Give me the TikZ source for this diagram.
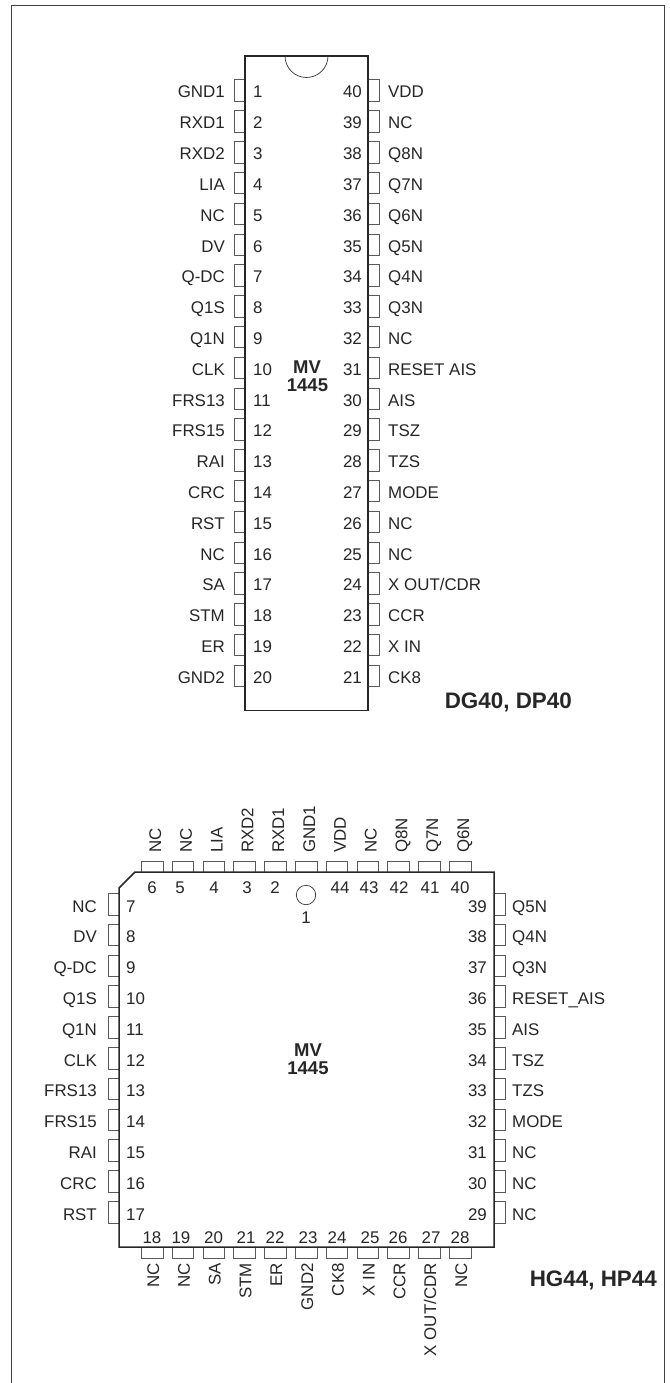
\documentclass[tikz,border=0pt]{standalone}
\usepackage{fontspec}
\setmainfont{Liberation Sans}
\usetikzlibrary{positioning}

\begin{document}
\begin{tikzpicture}[
    x = 1pt,
    y = -1pt,
    pin/.style = {draw = black!65, line width = 1pt}, % open stub on the package edge
    body/.style = {draw = black!85, line width = 1.5pt},
    pinlabel/.style = {inner sep = 0pt, text = black!85, text height = 12pt, text depth = 0pt,
        font = \fontsize{16.9}{18}\selectfont},
    partname/.style = {inner sep = 0pt, text = black!85, font = \bfseries\fontsize{18.5}{20}\selectfont},
    packname/.style = {inner sep = 0pt, text = black!85, font = \bfseries\fontsize{22.4}{24}\selectfont}
    ]

    \useasboundingbox (0,0) rectangle (669,1383);
    \draw[draw = black!75, line width = 0.9pt] (11.5,1383) -- (11.5,5) -- (664,5) -- (664,1383);

    % DIP package
    \foreach \i/\lab in {1/GND1,2/RXD1,3/RXD2,4/LIA,5/NC,6/DV,7/Q-DC,8/Q1S,9/Q1N,10/CLK,
        11/FRS13,12/FRS15,13/RAI,14/CRC,15/RST,16/NC,17/SA,18/STM,19/ER,20/GND2} {
        \draw[pin] (245,{80+30.8*(\i-1)}) -- ++(-11,0) -- ++(0,21.5) -- ++(11,0);
        \node[pinlabel, anchor = east] (dl\i) at (225,{92+30.8*(\i-1)}) {\lab};
        \node[pinlabel, anchor = west] (dn\i) at (253,{92+30.8*(\i-1)}) {\i};
    }
    \foreach \i/\lab in {40/VDD,39/NC,38/Q8N,37/Q7N,36/Q6N,35/Q5N,34/Q4N,33/Q3N,32/NC,31/RESET AIS,
        30/AIS,29/TSZ,28/TZS,27/MODE,26/NC,25/NC,24/X OUT\slash CDR,23/CCR,22/X IN,21/CK8} {
        \draw[pin] (368,{80+30.8*(40-\i)}) -- ++(11,0) -- ++(0,21.5) -- ++(-11,0);
        \node[pinlabel, anchor = east] (dn\i) at (362,{92+30.8*(40-\i)}) {\i};
        \node[pinlabel, anchor = west] (dl\i) at (388,{92+30.8*(40-\i)}) {\lab};
    }
    \draw[body] (245,56) rectangle (368,710.5);
    \draw[draw = black!80, line width = 0.7pt] (285,56) arc[start angle = 180, end angle = 0, radius = 21.5];
    \node[partname] (dipmv) at (307,367) {MV};
    \node[partname] (dipno) at (307.5,385) {1445};
    \node[packname, anchor = east] (dipname) at (572,702) {DG40, DP40};

    % PLCC package
    \foreach \k/\lab/\num/\xn in {0/NC/6/152,1/NC/5/180,2/LIA/4/214,3/RXD2/3/247,4/RXD1/2/275,
        6/VDD/44/340,7/NC/43/369,8/Q8N/42/399,9/Q7N/41/430,10/Q6N/40/460} {
        \draw[pin] ({141.5+30.8*\k},872) -- ++(0,-11) -- ++(21.5,0) -- ++(0,11);
        \node[pinlabel, anchor = west, rotate = 90] (pl\num) at ({155+30.8*\k},853) {\lab};
        \node[pinlabel] (pn\num) at (\xn,887) {\num};
    }
    \draw[pin] ({141.5+30.8*5},872) -- ++(0,-11) -- ++(21.5,0) -- ++(0,11);
    \node[pinlabel, anchor = west, rotate = 90] (pl1) at ({155+30.8*5},853) {GND1};
    \node[pinlabel] (pn1) at (306,917) {1};
    \node[draw = black!80, line width = 0.7pt, circle, minimum size = 19.4pt, inner sep = 0pt] (dot) at (306,895) {};

    \foreach \i/\lab in {7/NC,8/DV,9/Q-DC,10/Q1S,11/Q1N,12/CLK,13/FRS13,14/FRS15,15/RAI,16/CRC,17/RST} {
        \draw[pin] (119,{893.5+30.8*(\i-7)}) -- ++(-11,0) -- ++(0,21.5) -- ++(11,0);
        \node[pinlabel, anchor = east] (pl\i) at (97,{906+30.8*(\i-7)}) {\lab};
        \node[pinlabel, anchor = west] (pn\i) at (126,{906+30.8*(\i-7)}) {\i};
    }
    \foreach \i/\lab in {39/Q5N,38/Q4N,37/Q3N,36/RESET\_AIS,35/AIS,34/TSZ,33/TZS,32/MODE,31/NC,30/NC,29/NC} {
        \draw[pin] (494,{893.5+30.8*(39-\i)}) -- ++(11,0) -- ++(0,21.5) -- ++(-11,0);
        \node[pinlabel, anchor = east] (pn\i) at (487,{906+30.8*(39-\i)}) {\i};
        \node[pinlabel, anchor = west] (pl\i) at (512,{906+30.8*(39-\i)}) {\lab};
    }
    \foreach \k/\lab/\num/\xn in {0/NC/18/152,1/NC/19/181,2/SA/20/213.5,3/STM/21/246,4/ER/22/275,5/GND2/23/308,
        6/CK8/24/337,7/X IN/25/370,8/CCR/26/398,9/X OUT\slash CDR/27/431,10/NC/28/460} {
        \draw[pin] ({141.5+30.8*\k},1247) -- ++(0,11) -- ++(21.5,0) -- ++(0,-11);
        \node[pinlabel, anchor = east, rotate = 90] (pl\num) at ({153+30.8*\k},1263) {\lab};
        \node[pinlabel] (pn\num) at (\xn,1237) {\num};
    }
    \draw[body] (135,872) -- (494,872) -- (494,1247) -- (119,1247) -- (119,888) -- cycle;
    \node[partname] (plccmv) at (308,1050) {MV};
    \node[partname] (plccno) at (308,1068) {1445};
    \node[packname, anchor = east] (plccname) at (657,1280) {HG44, HP44};
\end{tikzpicture}
\end{document}
